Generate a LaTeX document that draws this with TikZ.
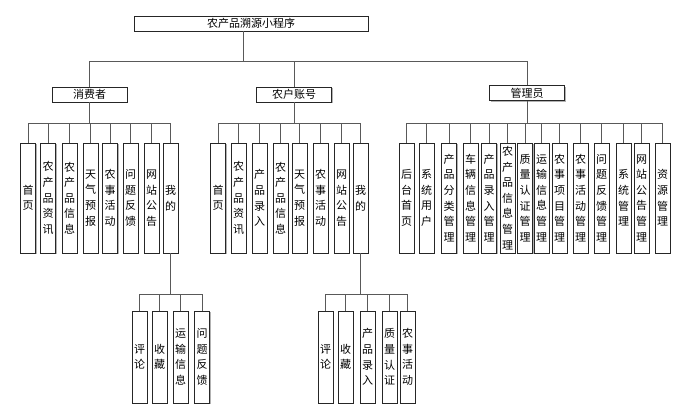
\documentclass[tikz,border=0pt]{standalone}
\usepackage{fontspec}
\setmainfont{Noto Sans CJK SC}
\usetikzlibrary{shadows}

\tikzset{
  box/.style={draw=black!85, fill=white, line width=0.9pt, inner sep=0pt,
    drop shadow={shadow xshift=1.2pt, shadow yshift=-1.2pt, fill=black!30, opacity=1},
    font=\fontsize{11pt}{15.6pt}\selectfont},
  headbox/.style={box, minimum width=75pt, minimum height=15pt},
  leafbox/.style={box, minimum width=15pt, minimum height=110pt, align=center},
  subbox/.style={box, minimum width=15pt, minimum height=92pt, align=center},
  link/.style={draw=black!65, line width=1pt}
}

\begin{document}
\begin{tikzpicture}[x=1pt, y=-1pt]
        \useasboundingbox (0,0) rectangle (675,408);

        % 1. Root and the three user groups
        \node[box, minimum width=234pt, minimum height=15pt] (root) at (251,23.5) {农产品溯源小程序};
        \node[headbox] (cons) at (89.5,94.5) {消费者};
        \node[headbox] (farm) at (294,94.5) {农户账号};
        \node[headbox] (admin) at (527,93) {管理员};

        % 2. Consumer pages
        \foreach \px/\txt [count=\i] in {28.2/{首\\页}, 48.2/{农\\产\\品\\资\\讯}, 69.5/{农\\产\\品\\信\\息},
            90.5/{天\\气\\预\\报}, 110/{农\\事\\活\\动}, 130.5/{问\\题\\反\\馈}, 151.5/{网\\站\\公\\告}, 170.5/{我\\的}}
            \node[leafbox] (c\i) at (\px,198) {\txt};

        % 3. Farmer pages
        \foreach \px/\txt [count=\i] in {218/{首\\页}, 238.5/{农\\产\\品\\资\\讯}, 259.5/{产\\品\\录\\入},
            280.5/{农\\产\\品\\信\\息}, 299.5/{天\\气\\预\\报}, 320.5/{农\\事\\活\\动}, 341.5/{网\\站\\公\\告}, 360.5/{我\\的}}
            \node[leafbox] (f\i) at (\px,198) {\txt};

        % 4. Admin pages
        \foreach \px/\txt [count=\i] in {406.5/{后\\台\\首\\页}, 426.5/{系\\统\\用\\户}, 449/{产\\品\\分\\类\\管\\理},
            470.5/{车\\辆\\信\\息\\管\\理}, 489/{产\\品\\录\\入\\管\\理}, 507.5/{农\\产\\品\\信\\息\\管\\理},
            525/{质\\量\\认\\证\\管\\理}, 541.5/{运\\输\\信\\息\\管\\理}, 559.5/{农\\事\\项\\目\\管\\理},
            580.5/{农\\事\\活\\动\\管\\理}, 601.5/{问\\题\\反\\馈\\管\\理}, 623.5/{系\\统\\管\\理},
            641.5/{网\\站\\公\\告\\管\\理}, 662.5/{资\\源\\管\\理}}
            \node[leafbox] (a\i) at (\px,198) {\txt};

        % 5. "我的" sub pages
        \foreach \px/\txt [count=\i] in {139.5/{评\\论}, 159.5/{收\\藏}, 180.5/{运\\输\\信\\息}, 202/{问\\题\\反\\馈}}
            \node[subbox] (cs\i) at (\px,357) {\txt};
        \foreach \px/\txt [count=\i] in {325.5/{评\\论}, 345.5/{收\\藏}, 367.5/{产\\品\\录\\入}, 389.5/{质\\量\\认\\证}, 407.5/{农\\事\\活\\动}}
            \node[subbox] (fs\i) at (\px,357) {\txt};

        % 6. Connectors
        \draw[link] ([xshift=-8pt]root.south) -- ++(0,30) coordinate (rbus);
        \foreach \n in {cons,farm,admin}
            \draw[link] (rbus) -| (\n.north);

        \draw[link] (cons.south) -- ++(0,21) coordinate (cbus);
        \foreach \i in {1,...,8}
            \draw[link] (cbus) -| (c\i.north);

        \draw[link] (farm.south) -- ++(0,21) coordinate (fbus);
        \foreach \i in {1,...,8}
            \draw[link] (fbus) -| (f\i.north);

        \draw[link] (admin.south) -- ++(0,22.5) coordinate (abus);
        \foreach \i in {1,...,14}
            \draw[link] (abus) -| (a\i.north);

        \draw[link] (c8.south) -- ++(0,41) coordinate (csbus);
        \foreach \i in {1,...,4}
            \draw[link] (csbus) -| (cs\i.north);

        \draw[link] (f8.south) -- ++(0,41) coordinate (fsbus);
        \foreach \i in {1,...,5}
            \draw[link] (fsbus) -| (fs\i.north);
    \end{tikzpicture}
\end{document}
